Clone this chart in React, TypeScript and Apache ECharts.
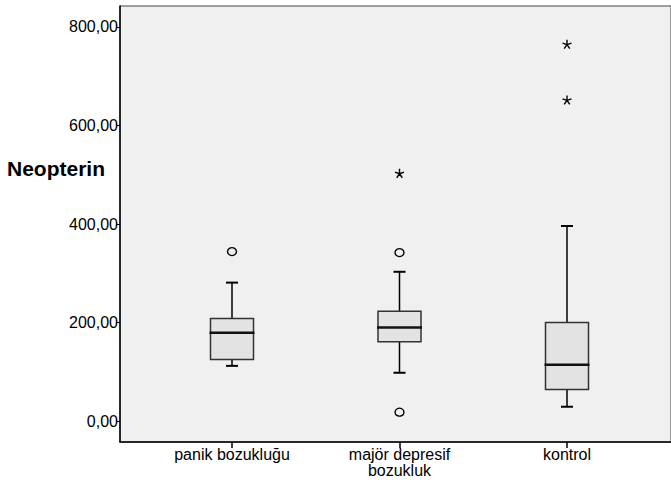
import React, { useEffect, useRef } from "react";
import * as echarts from "echarts";

const categories = ["panik bozukluğu", "majör depresif\nbozukluk", "kontrol"];
// [min whisker, Q1, median, Q3, max whisker]
const boxValues = [
  [112, 125, 179, 208, 281],
  [98, 161, 190, 223, 303],
  [29, 64, 114, 200, 396],
];
const circleOutliers = [
  [0, 344],
  [1, 342],
  [1, 18],
];
const starOutliers = [
  [1, 503],
  [2, 765],
  [2, 652],
];
const yTicks = [0, 200, 400, 600, 800];

const Y_MIN = -42.6;
const Y_MAX = 842.6;
const FONT = "'Liberation Sans', Arial, sans-serif";

const starPath =
  "path://M50,0 L50,50 M97.55,34.55 L50,50 M79.39,90.45 L50,50 M20.61,90.45 L50,50 M2.45,34.55 L50,50";

export default function App() {
  const ref = useRef<HTMLDivElement>(null);
  useEffect(() => {
    document.body.style.margin = "0";
    if (!ref.current) return;
    const chart = echarts.init(ref.current, null, { renderer: "svg" });
    const fmt = (v: number) => v.toFixed(2).replace(".", ",");
    chart.setOption({
      animation: false,
      backgroundColor: "#ffffff",
      title: {
        text: "Neopterin",
        left: 2,
        top: 153,
        textStyle: { fontFamily: FONT, fontSize: 21, fontWeight: "bold", color: "#000" },
      },
      grid: [
        {
          left: 120,
          top: 6,
          right: -10,
          bottom: 44,
          show: true,
          backgroundColor: "#f0f0f0",
          borderColor: "#444",
          borderWidth: 1,
        },
        { left: 148.25, width: 502.5, top: 6, bottom: 44 },
      ],
      xAxis: [
        {
          gridIndex: 0,
          type: "value",
          min: 0,
          max: 1,
          axisLine: { show: true, onZero: false, lineStyle: { color: "#000", width: 1.5 } },
          axisTick: { show: false },
          axisLabel: { show: false },
          splitLine: { show: false },
        },
        {
          gridIndex: 1,
          type: "category",
          data: categories,
          axisLine: { show: false, onZero: false },
          axisTick: {
            show: true,
            alignWithLabel: true,
            length: 6,
            lineStyle: { color: "#000", width: 1.5 },
          },
          axisLabel: {
            margin: 4,
            fontFamily: FONT,
            fontSize: 16,
            lineHeight: 16,
            color: "#000",
            interval: 0,
          },
          splitLine: { show: false },
        },
      ],
      yAxis: [
        {
          gridIndex: 0,
          type: "value",
          min: Y_MIN,
          max: Y_MAX,
          axisLine: { show: true, lineStyle: { color: "#000", width: 1.5 } },
          axisTick: {
            show: true,
            length: 4,
            customValues: yTicks,
            lineStyle: { color: "#000", width: 1 },
          },
          axisLabel: {
            margin: 2,
            customValues: yTicks,
            formatter: fmt,
            fontFamily: FONT,
            fontSize: 16,
            color: "#000",
            padding: [3, 0, 0, 0],
          },
          splitLine: { show: false },
        },
        {
          gridIndex: 1,
          type: "value",
          min: Y_MIN,
          max: Y_MAX,
          show: false,
          splitLine: { show: false },
        },
      ],
      series: [
        {
          type: "custom",
          xAxisIndex: 1,
          yAxisIndex: 1,
          data: boxValues.map((b, i) => [i, ...b]),
          renderItem: (params: any, api: any) => {
            const idx = api.value(0);
            const [lo, q1, med, q3, hi] = [1, 2, 3, 4, 5].map((d) => api.coord([idx, api.value(d)])[1]);
            const cx = api.coord([idx, 0])[0];
            const hw = 21.5;
            const cw = 6;
            const lineStyle = { stroke: "#000", lineWidth: 1.5 };
            return {
              type: "group",
              children: [
                { type: "line", shape: { x1: cx, y1: hi, x2: cx, y2: q3 }, style: lineStyle },
                { type: "line", shape: { x1: cx, y1: q1, x2: cx, y2: lo }, style: lineStyle },
                { type: "line", shape: { x1: cx - cw, y1: hi, x2: cx + cw, y2: hi }, style: { stroke: "#000", lineWidth: 2 } },
                { type: "line", shape: { x1: cx - cw, y1: lo, x2: cx + cw, y2: lo }, style: { stroke: "#000", lineWidth: 2 } },
                {
                  type: "rect",
                  shape: { x: cx - hw, y: q3, width: hw * 2, height: q1 - q3 },
                  style: { fill: "#e3e3e3", stroke: "#333", lineWidth: 1.5 },
                },
                { type: "line", shape: { x1: cx - hw - 1, y1: med, x2: cx + hw + 1, y2: med }, style: { stroke: "#111", lineWidth: 2.5 } },
              ],
            };
          },
          z: 2,
        },
        {
          type: "scatter",
          xAxisIndex: 1,
          yAxisIndex: 1,
          data: circleOutliers,
          symbol: "circle",
          symbolSize: [9, 8],
          itemStyle: { color: "#f0f0f0", borderColor: "#000", borderWidth: 1.3, opacity: 1 },
          z: 3,
        },
        {
          type: "scatter",
          xAxisIndex: 1,
          yAxisIndex: 1,
          data: starOutliers,
          symbol: starPath,
          symbolSize: [9, 9],
          itemStyle: { color: "none", borderColor: "#000", borderWidth: 1.4, opacity: 1 },
          z: 3,
        },
      ],
    });
    return () => chart.dispose();
  }, []);
  return <div ref={ref} style={{ width: 671, height: 486 }} />;
}
